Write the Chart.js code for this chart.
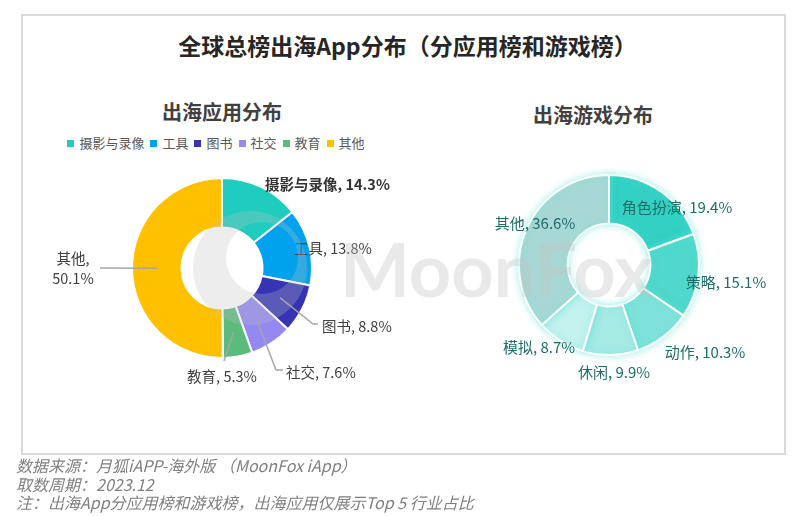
<!DOCTYPE html>
<html>
<head>
<meta charset="utf-8">
<script src="https://cdn.jsdelivr.net/npm/chart.js@4.4.1/dist/chart.umd.min.js"></script>
<style>
  body { margin: 0; width: 803px; height: 516px; background: #fff; position: relative; overflow: hidden;
         font-family: "Noto Sans CJK SC", "Noto Sans", sans-serif; }
  .frame { position: absolute; left: 21px; top: 14px; width: 765px; height: 441px; box-sizing: border-box;
           border: 2px solid #d9d9d9; }
  .title { position: absolute; left: 0; width: 815px; top: 30px; text-align: center; font-size: 23px;
           font-weight: bold; color: #262626; line-height: 30px; }
  .sub { position: absolute; font-size: 20px; font-weight: bold; color: #404040; line-height: 26px;
         text-align: center; width: 200px; }
  .legend { position: absolute; left: 22px; width: 388px; top: 134px; display: flex; justify-content: center;
            gap: 6px; font-size: 13px; color: #595959; line-height: 18px; }
  .legend span.sw { display: inline-block; width: 7px; height: 7px; margin-right: 5px; vertical-align: 1px; }
  .note { position: absolute; left: 16px; top: 456px; font-size: 16px; font-style: italic; color: #7f7f7f;
          line-height: 18.5px; }
  canvas { position: absolute; }
</style>
</head>
<body>
<div class="frame"></div>
<div class="title">全球总榜出海App分布（分应用榜和游戏榜）</div>
<div class="sub" style="left:122px; top:99px;">出海应用分布</div>
<div class="sub" style="left:493px; top:102px;">出海游戏分布</div>
<div class="legend" id="appLegend"></div>
<canvas id="appChart" style="left:22px; top:150px;" width="380" height="250"></canvas>
<canvas id="gameChart" style="left:420px; top:150px;" width="360" height="250"></canvas>
<canvas id="mark" style="left:0; top:0; pointer-events:none;" width="803" height="516"></canvas>
<div class="note">数据来源：月狐iAPP-海外版 （MoonFox iApp）<br>取数周期：2023.12<br>注：出海App分应用榜和游戏榜，出海应用仅展示Top 5 行业占比</div>

<script>
const appCategories = ['摄影与录像', '工具', '图书', '社交', '教育', '其他'];
const appShares = [14.3, 13.8, 8.8, 7.6, 5.3, 50.1];
const gameCategories = ['角色扮演', '策略', '动作', '休闲', '模拟', '其他'];
const gameShares = [19.4, 15.1, 10.3, 9.9, 8.7, 36.6];

const appColors = ['#1fcdbe', '#00a2ee', '#3434b4', '#9488f2', '#5bbb7c', '#ffc000'];
const gameColors = ['#33d1c4', '#4fd8cc', '#7fe2da', '#a6eae4', '#c4f2ee', '#a8d8d5'];

// label placement relative to the doughnut centre (text anchor), leader points relative to the text anchor
const appPlaces = [
    { dx: 43, dy: -84, align: 'left', bold: true },
    { dx: 72, dy: -20, align: 'left' },
    { dx: 100, dy: 58, align: 'left', leader: [[-9, -2], [-4, -2]] },
    { dx: 64, dy: 104, align: 'left', leader: [[-10, -2], [-3, -2]] },
    { dx: 0, dy: 108, align: 'center', leader: [[2, -15]] },
    { dx: -149, dy: 0, align: 'center', wrap: true, leader: [[27, 0]] }
];
const gamePlaces = [
    { dx: 68, dy: -58, align: 'center' },
    { dx: 117, dy: 17, align: 'center' },
    { dx: 96, dy: 87, align: 'center' },
    { dx: 5, dy: 107, align: 'center' },
    { dx: -70, dy: 82, align: 'center' },
    { dx: -74, dy: -42, align: 'center' }
];

// html legend for the app chart
const legendEl = document.getElementById('appLegend');
appCategories.forEach(function (name, i) {
    const item = document.createElement('div');
    item.innerHTML = '<span class="sw" style="background:' + appColors[i] + '"></span>' + name;
    legendEl.appendChild(item);
});

const sliceLabels = {
    id: 'sliceLabels',
    afterDatasetsDraw(chart, args, opts) {
        const ctx = chart.ctx;
        const meta = chart.getDatasetMeta(0);
        const labels = chart.data.labels;
        const values = chart.data.datasets[0].data;
        ctx.save();
        meta.data.forEach(function (arc, i) {
            const p = opts.places[i];
            const tx = arc.x + p.dx, ty = arc.y + p.dy;
            if (p.leader) {
                const mid = (arc.startAngle + arc.endAngle) / 2;
                const rMid = (arc.innerRadius + arc.outerRadius) / 2;
                ctx.beginPath();
                ctx.moveTo(arc.x + Math.cos(mid) * rMid, arc.y + Math.sin(mid) * rMid);
                p.leader.forEach(function (pt) { ctx.lineTo(tx + pt[0], ty + pt[1]); });
                ctx.strokeStyle = '#a6a6a6';
                ctx.lineWidth = 1.5;
                ctx.stroke();
            }
            ctx.font = (p.bold ? 'bold ' : '') + opts.size + 'px "Noto Sans CJK SC", sans-serif';
            ctx.fillStyle = p.bold ? '#333333' : opts.color;
            ctx.textAlign = p.align;
            ctx.textBaseline = 'middle';
            const pct = values[i].toFixed(1) + '%';
            if (p.wrap) {
                ctx.fillText(labels[i] + ',', tx, ty - 10);
                ctx.fillText(pct, tx, ty + 10);
            } else {
                ctx.fillText(labels[i] + ', ' + pct, tx, ty);
            }
        });
        ctx.restore();
    }
};

const glow = {
    id: 'glow',
    beforeDatasetsDraw(chart, args, opts) {
        if (!opts.color) return;
        chart.ctx.save();
        chart.ctx.shadowColor = opts.color;
        chart.ctx.shadowBlur = 7;
    },
    afterDatasetsDraw(chart, args, opts) {
        if (!opts.color) return;
        chart.ctx.restore();
    }
};

function makeDoughnut(id, labels, values, colors, cutout, padding, places, textColor, textSize, glowColor) {
    return new Chart(document.getElementById(id).getContext('2d'), {
        type: 'doughnut',
        data: {
            labels: labels,
            datasets: [{
                data: values,
                backgroundColor: colors,
                borderColor: '#ffffff',
                borderWidth: 2
            }]
        },
        options: {
            responsive: false,
            animation: false,
            cutout: cutout,
            layout: { padding: padding },
            plugins: {
                legend: { display: false },
                tooltip: { enabled: false },
                sliceLabels: { places: places, color: textColor, size: textSize },
                glow: { color: glowColor }
            }
        },
        plugins: [glow, sliceLabels]
    });
}

makeDoughnut('appChart', appCategories, appShares, appColors, '45%',
    { left: 109, right: 89, top: 27, bottom: 41 }, appPlaces, '#404040', 14.5, null);
makeDoughnut('gameChart', gameCategories, gameShares, gameColors, '46%',
    { left: 98, right: 80, top: 24, bottom: 44 }, gamePlaces, '#1e6e66', 15, 'rgba(90,225,215,0.55)');

// MoonFox watermark
const m = document.getElementById('mark').getContext('2d');
m.fillStyle = 'rgba(190,190,190,0.28)';
m.beginPath();
m.arc(250, 268, 57, 0, Math.PI * 2);
m.arc(262, 258, 36, 0, Math.PI * 2, true);
m.fill('evenodd');
m.fillStyle = 'rgba(195,195,195,0.36)';
m.font = 'bold 74px Lato, "Open Sans", sans-serif';
m.textBaseline = 'alphabetic';
m.fillText('MoonFox', 340, 297);
</script>
</body>
</html>
